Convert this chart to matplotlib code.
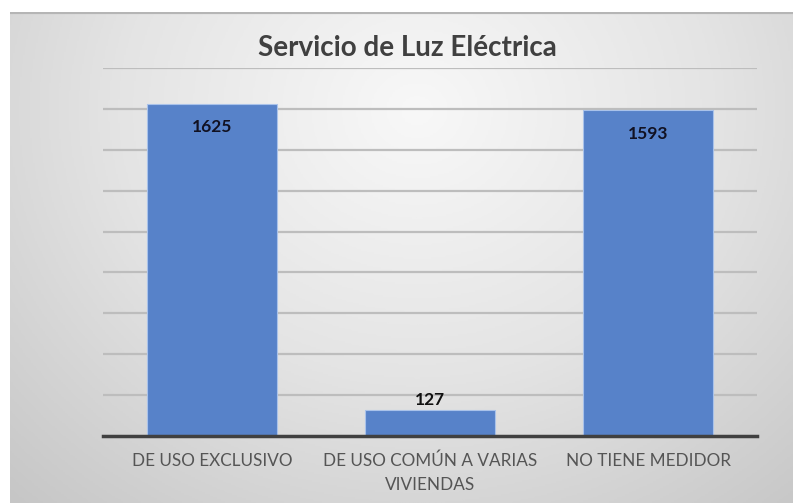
import numpy as np
import matplotlib.pyplot as plt
from matplotlib.colors import LinearSegmentedColormap

# Data
categories = ['DE USO EXCLUSIVO', 'DE USO COMÚN A VARIAS\nVIVIENDAS', 'NO TIENE MEDIDOR']
values = [1625, 127, 1593]
title = 'Servicio de Luz Eléctrica'

W, H = 793, 503
fig = plt.figure(figsize=(W / 100, H / 100), dpi=100)
fig.patch.set_facecolor('white')

# gradient panel behind the chart
bg = fig.add_axes([10 / W, 0, (W - 10) / W, (H - 12) / H], zorder=0)
yy, xx = np.mgrid[0:1:300j, 0:1:500j]
d = np.sqrt(((xx - 0.52) / 0.7) ** 2 + ((yy - 0.2) / 1.0) ** 2)
d = np.clip(d / d.max(), 0, 1)
cmap = LinearSegmentedColormap.from_list('bg', ['#f8f8f8', '#e4e4e4', '#c6c6c6'])
bg.imshow(d, cmap=cmap, aspect='auto', extent=[0, 1, 1, 0], vmin=0, vmax=1)
bg.axhline(0.0, color='#b5b5b5', lw=3)
bg.set_xlim(0, 1)
bg.set_ylim(1, 0)
bg.axis('off')

# main chart
ax = fig.add_axes([103 / W, 67 / H, (757 - 103) / W, (436 - 68) / H], zorder=1)
ax.patch.set_alpha(0)
x = np.arange(len(categories))
bars = ax.bar(x, values, width=0.6, color='#5782c9', edgecolor='#a9c2ea', linewidth=0.8, zorder=3)

ax.set_ylim(0, 1800)
ax.set_xlim(-0.5, len(categories) - 0.5)
ax.set_yticks(np.arange(200, 1801, 200))
ax.yaxis.grid(True, color='#bdbdbd', lw=1.6, zorder=0)
ax.tick_params(axis='y', left=False, labelleft=False)
ax.tick_params(axis='x', length=0, pad=12)
for s in ['top', 'right', 'left']:
    ax.spines[s].set_visible(False)
ax.spines['bottom'].set_color('#404040')
ax.spines['bottom'].set_linewidth(2.5)
ax.spines['bottom'].set_zorder(4)

ax.set_xticks(x)
ax.set_xticklabels(categories, fontsize=12.3, color='#555555', family='Lato',
                   linespacing=1.6)

# value labels
for b, v in zip(bars, values):
    if v > 400:
        ax.annotate(str(v), (b.get_x() + b.get_width() / 2, v), xytext=(0, -17),
                    textcoords='offset points', ha='center', va='center',
                    fontsize=12.5, fontweight='bold', family='Lato', color='#111122', zorder=5)
    else:
        ax.annotate(str(v), (b.get_x() + b.get_width() / 2, v), xytext=(0, 1.5),
                    textcoords='offset points', ha='center', va='bottom',
                    fontsize=12.5, fontweight='bold', family='Lato', color='#111111', zorder=5)

fig.text(407 / W, 1 - 48 / H, title, ha='center', va='center', fontsize=20,
         fontweight='bold', family='Lato', color='#404040')

fig.savefig('out.png', dpi=100)
